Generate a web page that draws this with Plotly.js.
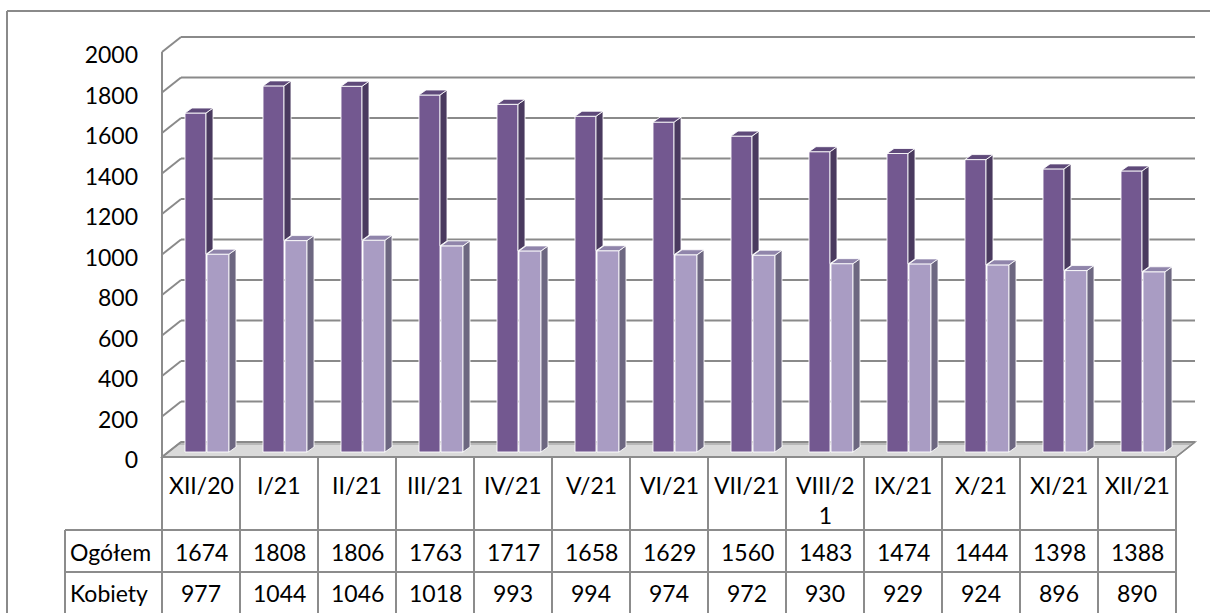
<!DOCTYPE html>
<html>
<head>
<meta charset="utf-8">
<script src="https://cdn.plot.ly/plotly-3.0.1.min.js"></script>
<style>html,body{margin:0;padding:0;background:#fff;}#chart{width:1210px;height:613px;}</style>
</head>
<body>
<div id="chart"></div>
<script>
// ---- data ----
const categories = ['XII/20','I/21','II/21','III/21','IV/21','V/21','VI/21','VII/21','VIII/21','IX/21','X/21','XI/21','XII/21'];
const ogolem = [1674,1808,1806,1763,1717,1658,1629,1560,1483,1474,1444,1398,1388];
const kobiety = [977,1044,1046,1018,993,994,974,972,930,929,924,896,890];
const seriesNames = ['Ogółem','Kobiety'];
const yTicks = [0,200,400,600,800,1000,1200,1400,1600,1800,2000];

// ---- geometry (pixel layout constants) ----
const W = 1210, H = 613;
const COLW = 78, X0PX = 162;          // column width, left edge of first column
const K = 0.2025, Y0PX = 457;         // px per unit, pixel of value 0 on front plane
const toX = px => -0.5 + (px - X0PX) / COLW;
const dX = px => px / COLW;
const toY = py => (Y0PX - py) / K;
const dY = py => py / K;

const FONT = 'Lato, "Liberation Sans", Arial, sans-serif';
const FS = 23;
const GRID = '#8a8a8a';
const LINE = '#8c8c8c';

const idx = categories.map((c, i) => i);
const nCols = categories.length;

// bar geometry
const base0 = dY(5);            // bars stand slightly behind the front plane
const depthX = dX(7), depthY = dY(5);
const darkOff = dX(23) - 0.5, darkW = dX(21);
const lightOff = dX(45) - 0.5, lightW = dX(22);

const darkFront = '#735890', darkSide = '#4a3a5f', darkTop = '#5f4a7a';
const lightFront = '#a99cc3', lightSide = '#6d6781', lightTop = '#9085ab';

function polys(list) {
  const xs = [], ys = [];
  list.forEach(p => { p.forEach(pt => { xs.push(pt[0]); ys.push(pt[1]); }); xs.push(p[0][0]); ys.push(p[0][1]); xs.push(null); ys.push(null); });
  return {x: xs, y: ys};
}
function sideFace(xr, yb, yt) { return [[xr, yb], [xr + depthX, yb + depthY], [xr + depthX, yt + depthY], [xr, yt]]; }
function topFace(xl, xr, yt) { return [[xl, yt], [xr, yt], [xr + depthX, yt + depthY], [xl + depthX, yt + depthY]]; }

const dSide = polys(idx.map(i => sideFace(i + darkOff + darkW, base0 + kobiety[i], base0 + ogolem[i])));
const dTop = polys(idx.map(i => topFace(i + darkOff, i + darkOff + darkW, base0 + ogolem[i])));
const lSide = polys(idx.map(i => sideFace(i + lightOff + lightW, base0, base0 + kobiety[i])));
const lTop = polys(idx.map(i => topFace(i + lightOff, i + lightOff + lightW, base0 + kobiety[i])));

const faceLine = {color: 'rgba(255,255,255,0.85)', width: 1};
const traces = [
  {type: 'bar', name: seriesNames[0], x: idx, y: ogolem, base: idx.map(() => base0), offset: darkOff, width: darkW,
   marker: {color: darkFront, line: {color: 'rgba(255,255,255,0.9)', width: 1}}, hoverinfo: 'skip'},
  {type: 'bar', name: seriesNames[1], x: idx, y: kobiety, base: idx.map(() => base0), offset: lightOff, width: lightW,
   marker: {color: lightFront, line: {color: 'rgba(255,255,255,0.9)', width: 1}}, hoverinfo: 'skip'},
  {type: 'scatter', mode: 'lines', x: dSide.x, y: dSide.y, fill: 'toself', fillcolor: darkSide, line: faceLine, hoverinfo: 'skip'},
  {type: 'scatter', mode: 'lines', x: dTop.x, y: dTop.y, fill: 'toself', fillcolor: darkTop, line: faceLine, hoverinfo: 'skip'},
  {type: 'scatter', mode: 'lines', x: lSide.x, y: lSide.y, fill: 'toself', fillcolor: lightSide, line: faceLine, hoverinfo: 'skip'},
  {type: 'scatter', mode: 'lines', x: lTop.x, y: lTop.y, fill: 'toself', fillcolor: lightTop, line: faceLine, hoverinfo: 'skip'}
];

// ---- walls, floor, grid ----
const backDX = dX(19), backDY = dY(15);
const xFront = -0.5, xBack = xFront + backDX;
const xRightBack = toX(1195), xRightFront = toX(1176);
const shapes = [];
// floor
shapes.push({type: 'path', layer: 'below', xref: 'x', yref: 'y',
  path: `M ${xFront} 0 L ${xRightFront} 0 L ${xRightBack} ${backDY} L ${xBack} ${backDY} Z`,
  fillcolor: '#dadada', line: {color: GRID, width: 1.5}});
shapes.push({type: 'path', layer: 'below', xref: 'x', yref: 'y',
  path: `M ${xBack} ${backDY} L ${xRightBack} ${backDY} L ${xRightBack - dX(3)} ${backDY - dY(3)} L ${xBack - dX(3)} ${backDY - dY(3)} Z`,
  fillcolor: '#b8b8b8', line: {width: 0}});
yTicks.forEach(v => {
  shapes.push({type: 'line', layer: 'below', xref: 'x', yref: 'y', x0: xBack, x1: xRightBack, y0: v + backDY, y1: v + backDY, line: {color: GRID, width: 2}});
  shapes.push({type: 'line', layer: 'below', xref: 'x', yref: 'y', x0: xFront, x1: xBack, y0: v, y1: v + backDY, line: {color: GRID, width: 2}});
});
// front axis / first column line
shapes.push({type: 'line', layer: 'above', xref: 'x', yref: 'y', x0: xFront, x1: xFront, y0: yTicks[yTicks.length - 1], y1: toY(H), line: {color: LINE, width: 2}});
// table lines
const tblTop = toY(457), rowA = toY(530), rowB = toY(572), tblBot = toY(H);
const labelX = toX(65);
const colsEnd = -0.5 + nCols;
shapes.push({type: 'line', xref: 'x', yref: 'y', x0: xFront, x1: colsEnd, y0: tblTop, y1: tblTop, line: {color: LINE, width: 2}});
shapes.push({type: 'line', xref: 'x', yref: 'y', x0: colsEnd, x1: xRightBack, y0: tblTop, y1: backDY, line: {color: GRID, width: 1.5}});
[rowA, rowB].forEach(y => shapes.push({type: 'line', xref: 'x', yref: 'y', x0: labelX, x1: colsEnd, y0: y, y1: y, line: {color: LINE, width: 2}}));
shapes.push({type: 'line', xref: 'x', yref: 'y', x0: labelX, x1: labelX, y0: rowA, y1: tblBot, line: {color: LINE, width: 2}});
for (let j = 1; j <= nCols; j++) {
  shapes.push({type: 'line', xref: 'x', yref: 'y', x0: j - 0.5, x1: j - 0.5, y0: tblTop, y1: tblBot, line: {color: LINE, width: 2}});
}
// outer chart border
shapes.push({type: 'line', xref: 'x', yref: 'y', x0: toX(7), x1: toX(7), y0: toY(11), y1: toY(H), line: {color: '#8a8a8a', width: 2}});
shapes.push({type: 'line', xref: 'x', yref: 'y', x0: toX(7), x1: toX(W), y0: toY(11), y1: toY(11), line: {color: '#8a8a8a', width: 2}});

// ---- table text ----
const tf = {family: FONT, size: FS, color: '#000'};
const wrapLabel = c => c.length > 6 ? c.slice(0, 6) + '<br>' + c.slice(6) : c;
const annotations = [];
idx.forEach(i => {
  annotations.push({xref: 'x', yref: 'y', x: i, y: toY(469), xanchor: 'center', yanchor: 'top', text: wrapLabel(categories[i]), showarrow: false, font: tf});
  annotations.push({xref: 'x', yref: 'y', x: i, y: toY(552), xanchor: 'center', yanchor: 'middle', text: String(ogolem[i]), showarrow: false, font: tf});
  annotations.push({xref: 'x', yref: 'y', x: i, y: toY(593), xanchor: 'center', yanchor: 'middle', text: String(kobiety[i]), showarrow: false, font: tf});
});
annotations.push({xref: 'x', yref: 'y', x: toX(68), y: toY(552), xanchor: 'left', yanchor: 'middle', text: seriesNames[0], showarrow: false, font: tf});
annotations.push({xref: 'x', yref: 'y', x: toX(68), y: toY(593), xanchor: 'left', yanchor: 'middle', text: seriesNames[1], showarrow: false, font: tf});

const layout = {
  width: W, height: H,
  margin: {l: 0, r: 0, t: 0, b: 0, pad: 0},
  paper_bgcolor: '#ffffff', plot_bgcolor: 'rgba(0,0,0,0)',
  showlegend: false, barmode: 'overlay',
  font: {family: FONT, size: FS, color: '#000'},
  xaxis: {range: [toX(0), toX(W)], showgrid: false, zeroline: false, showticklabels: false, showline: false, ticks: '', fixedrange: true},
  yaxis: {range: [toY(H), toY(0)], tickmode: 'array', tickvals: yTicks, ticktext: yTicks.map(String),
    showgrid: false, zeroline: false, showline: false, ticks: '', anchor: 'free', position: 138 / W, side: 'left',
    tickfont: {family: FONT, size: FS, color: '#000'}, automargin: false, fixedrange: true, ticklabelshift: 3},
  shapes: shapes,
  annotations: annotations
};

Plotly.newPlot('chart', traces, layout, {staticPlot: true, displayModeBar: false});
</script>
</body>
</html>
